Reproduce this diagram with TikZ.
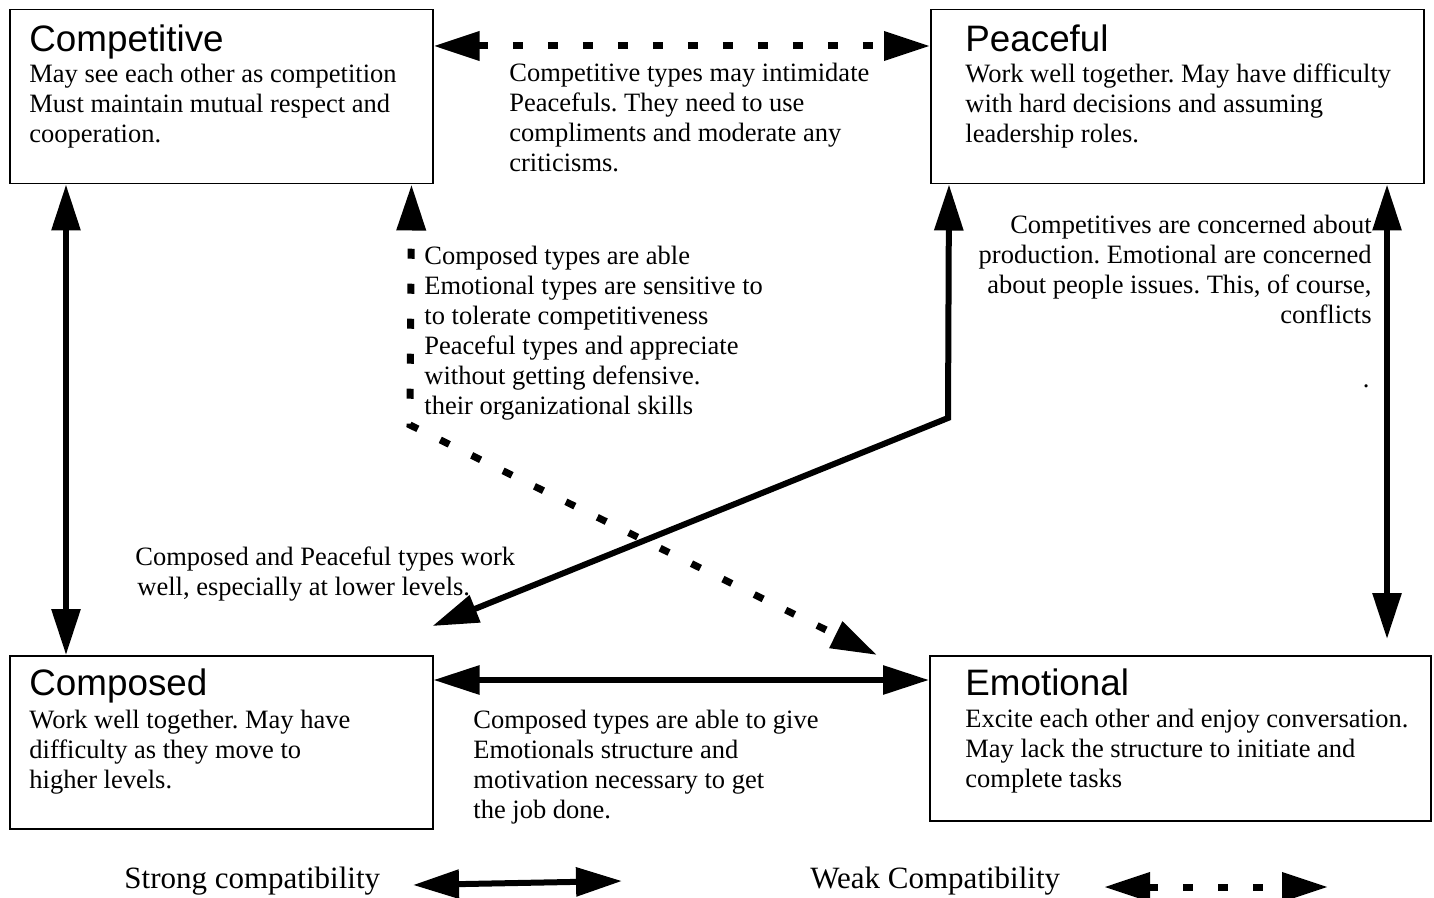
\documentclass[tikz,border=0pt]{standalone}
\usepackage{fontspec}
\setmainfont{Liberation Serif}
\setsansfont{Liberation Sans}
\frenchspacing
\usetikzlibrary{arrows.meta,calc}
\tikzset{
    typebox/.style={draw, line width=0.75pt, inner sep=0pt, anchor=north west},
    typename/.style={font=\sffamily\fontsize{18.4}{20}\selectfont, anchor=base west, inner sep=0pt},
    note/.style={font=\fontsize{13.25}{15}\selectfont, align=left, anchor=base west, inner sep=0pt},
    legendtext/.style={font=\fontsize{15.5}{18}\selectfont, anchor=base west, inner sep=0pt},
    strongarrow/.style={line width=3pt, {Triangle[length=23pt,width=14pt]}-{Triangle[length=23pt,width=14pt]}},
    weakarrow/.style={strongarrow, line width=3.5pt, dash pattern=on 5pt off 12.5pt},
}
\begin{document}
\begin{tikzpicture}[x=0.5pt,y=-0.5pt]
            \useasboundingbox (0,0) rectangle (1434,898);
            \node[typebox, minimum width=211.5pt, minimum height=87pt] (comp) at (9,9) {};
            \node[typebox, minimum width=246.5pt, minimum height=87pt] (peace) at (930,9) {};
            \node[typebox, minimum width=211.5pt, minimum height=86.5pt] (compo) at (9,655) {};
            \node[typebox, minimum width=250.5pt, minimum height=82.5pt] (emo) at (929,655) {};
            % notes are placed at the baseline of their last line
            \node[typename] (compT) at (29,52) {Competitive};
            \node[note] (compN) at (29,143) {May see each other as competition\\Must maintain mutual respect and\\cooperation.};
            \node[typename] (peaceT) at (965,52) {Peaceful};
            \node[note] (peaceN) at (965,143) {Work well together. May have difficulty\\with hard decisions and assuming\\leadership roles.};
            \node[typename] (compoT) at (29,695) {Composed};
            \node[note] (compoN) at (29,788) {Work well together. May have\\difficulty as they move to\\higher levels.};
            \node[typename] (emoT) at (965,695) {Emotional};
            \node[note] (emoN) at (965,787) {Excite each other and enjoy conversation.\\May lack the structure to initiate and\\complete tasks};
            % labels of the links
            \node[note] (cpL) at (509,172) {Competitive types may intimidate\\Peacefuls. They need to use\\compliments and moderate any\\criticisms.};
            \node[note] (ceL) at (424,415) {Composed types are able\\Emotional types are sensitive to\\to tolerate competitiveness\\Peaceful types and appreciate\\without getting defensive.\\their organizational skills};
            \node[note, align=right, anchor=base east] (peL) at (1372,324) {Competitives are concerned about\\production. Emotional are concerned\\about people issues. This, of course,\\conflicts};
            \node[note, anchor=base east] (peDot) at (1370,387) {.};
            \node[note] (cpeL) at (135,595) {Composed and Peaceful types work\\\hspace*{1pt}well, especially at lower levels.};
            \node[note] (coeL) at (473,818) {Composed types are able to give\\Emotionals structure and\\motivation necessary to get\\the job done.};
            \coordinate (bendA) at (948,418);
            \coordinate (bendB) at (410,425);
            \draw[strongarrow] ($(comp.south west)+(57,0)$) -- ($(compo.north west)+(57,0)$);
            \draw[weakarrow] ($(comp.north east)+(0,37)$) -- ($(peace.north west)+(0,37)$);
            \draw[strongarrow] ($(peace.south west)+(457,0)$) -- ($(emo.north west)+(458,-16)$);
            \draw[strongarrow] ($(compo.north east)+(0,25)$) -- ($(emo.north west)+(0,25)$);
            \draw[strongarrow] ($(compo.north east)+(-1,-29)$) -- (bendA) -- ($(peace.south west)+(19,0)$);
            \draw[weakarrow, dash phase=7.5pt] ($(comp.south east)+(-22,0)$) -- (bendB) -- ($(emo.north west)+(-52,0)$);
            % legend
            \node[legendtext] (strongL) at (124,888) {Strong compatibility};
            \node[legendtext] (weakL) at (810,888) {Weak Compatibility};
            \coordinate (s1) at (413,885);
            \coordinate (s2) at (622,881);
            \coordinate (w1) at (1104,887);
            \coordinate (w2) at (1328,887);
            \draw[strongarrow] (s1) -- (s2);
            \draw[weakarrow] (w1) -- (w2);
        \end{tikzpicture}
\end{document}
